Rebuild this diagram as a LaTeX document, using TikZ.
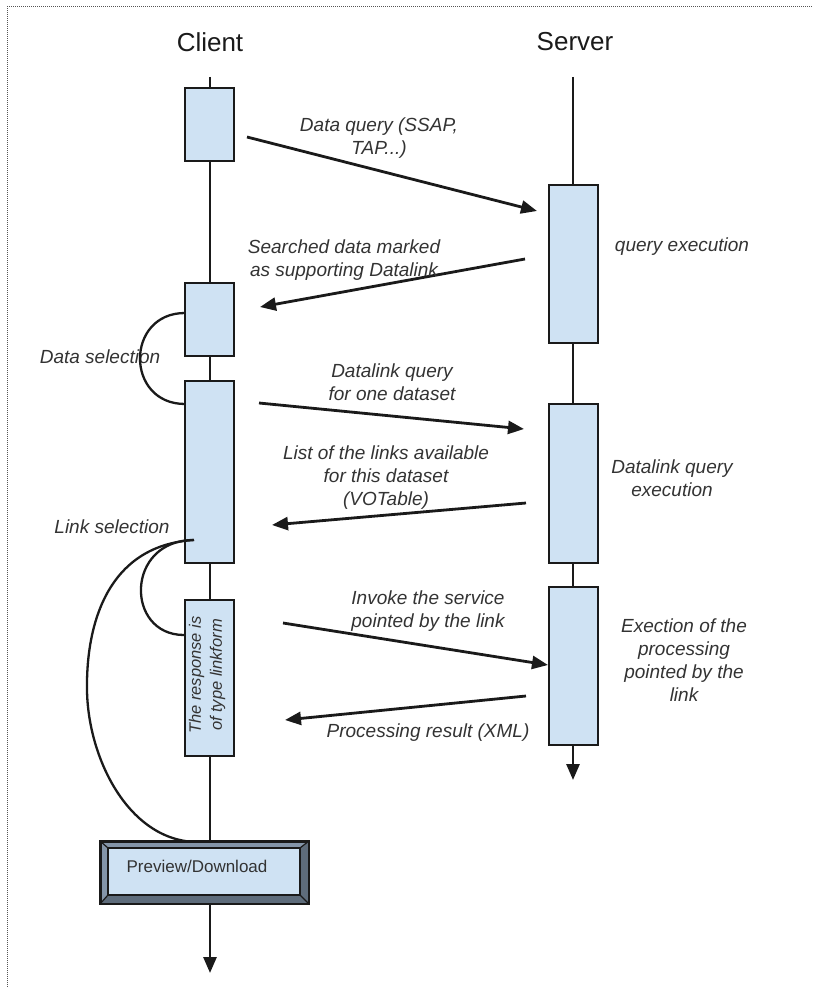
\documentclass[tikz,border=0pt]{standalone}
\usepackage{fontspec}
\setmainfont{Liberation Sans}
\usetikzlibrary{arrows.meta}
\definecolor{boxblue}{HTML}{CFE2F3}
\definecolor{inkc}{HTML}{1A1A1A}
\definecolor{txtc}{HTML}{333333}
\definecolor{bevel}{HTML}{8495A9}
\definecolor{bevdark}{HTML}{5E6C7B}
\definecolor{framec}{HTML}{555555}
\begin{document}
\begin{tikzpicture}[x=1pt,y=-1pt,
  lifeline/.style={draw=inkc,line width=2.8pt},
  tipa/.style={-{Triangle[length=16pt,width=13pt]}},
  actbox/.style={draw=inkc,line width=2.8pt,fill=boxblue,rectangle,minimum width=49pt,inner sep=0pt,anchor=center},
  msg/.style={draw=inkc,line width=2.8pt,tipa},
  lab/.style={text=txtc,font=\fontsize{19}{23}\selectfont\itshape,align=center,inner sep=0pt},
  ttl/.style={text=inkc,font=\fontsize{26}{30}\selectfont,inner sep=0pt},
  selarc/.style={draw=inkc,line width=2.3pt}]
\useasboundingbox (0,0) rectangle (812,987);
% frame
\coordinate (fa) at (7,987);
\coordinate (fb) at (7,7);
\coordinate (fc) at (812,7);
\draw[framec,line width=1pt,dash pattern=on 1pt off 1pt] (fa) -- (fb) -- (fc);
% titles
\node[ttl] (tclient) at (210,42) {Client};
\node[ttl] (tserver) at (575,42) {Server};
% lifelines
\coordinate (ctop) at (210,77);
\coordinate (cend) at (210,973);
\coordinate (stop) at (573,77);
\coordinate (send) at (573,780);
\draw[lifeline,tipa] (ctop) -- (cend);
\draw[lifeline,tipa] (stop) -- (send);
% client boxes
\node[actbox,minimum height=73pt] (c1) at (209.5,124.5) {};
\node[actbox,minimum height=73pt] (c2) at (209.5,319.5) {};
\node[actbox,minimum height=182pt] (c3) at (209.5,472) {};
\node[actbox,minimum height=156pt] (c4) at (209.5,678) {};
% server boxes
\node[actbox,minimum height=158pt] (s1) at (573.5,264) {};
\node[actbox,minimum height=159pt] (s2) at (573.5,483.5) {};
\node[actbox,minimum height=158pt] (s3) at (573.5,666) {};
% messages
\coordinate (m1a) at (247,137);  \coordinate (m1b) at (537,211);
\coordinate (m2a) at (525,259);  \coordinate (m2b) at (260,307);
\coordinate (m3a) at (259,403);  \coordinate (m3b) at (524,429);
\coordinate (m4a) at (526,503);  \coordinate (m4b) at (272,525);
\coordinate (m5a) at (283,623);  \coordinate (m5b) at (548,665);
\coordinate (m6a) at (526,696);  \coordinate (m6b) at (285,720);
\draw[msg] (m1a) -- (m1b);
\draw[msg] (m2a) -- (m2b);
\draw[msg] (m3a) -- (m3b);
\draw[msg] (m4a) -- (m4b);
\draw[msg] (m5a) -- (m5b);
\draw[msg] (m6a) -- (m6b);
% labels
\node[lab] (l1) at (379,138) {Data query (SSAP,\\TAP...)};
\node[lab] (l2) at (344,260) {Searched data marked\\as supporting Datalink};
\node[lab] (l3) at (682,247) {query execution};
\node[lab] (l4) at (100,357) {Data selection};
\node[lab] (l5) at (392,382) {Datalink query\\for one dataset};
\node[lab] (l6) at (386,478) {List of the links available\\for this dataset\\(VOTable)};
\node[lab] (l7) at (672,478) {Datalink query\\execution};
\node[lab] (l8) at (112,527) {Link selection};
\node[lab] (l9) at (428,611) {Invoke the service\\pointed by the link};
\node[lab] (l10) at (684,660) {Exection of the\\processing\\pointed by the\\link};
\node[lab] (l11) at (428,733) {Processing result (XML)};
\node[lab,rotate=90,font=\fontsize{16.5}{21}\selectfont\itshape] (l12) at (207,675) {The response is\\of type linkform};
% selection arcs
\coordinate (d1) at (185,313); \coordinate (d2) at (185,404);
\draw[selarc] (d1) .. controls (125,313) and (125,404) .. (d2);
\coordinate (k0) at (194,540); \coordinate (k1) at (184,635);
\coordinate (k2) at (87,690); \coordinate (k3) at (198,842);
\draw[selarc] (k0) .. controls (125,540) and (125,635) .. (k1);
\draw[selarc] (k0) .. controls (110,545) and (86,620) .. (k2) .. controls (88,760) and (130,842) .. (k3);
% preview / download button
\node[draw=inkc,line width=2pt,fill=bevel,minimum width=207pt,minimum height=61pt,inner sep=0pt] (pv) at (204.5,872.5) {};
\node[minimum width=192pt,minimum height=47pt,inner sep=0pt] (pvin) at (204,871.5) {};
\fill[bevdark] (pv.south west) -- (pv.south east) -- (pv.north east) -- (pvin.north east) -- (pvin.south east) -- (pvin.south west) -- cycle;
\draw[inkc,line width=2.4pt] (pv.south west) rectangle (pv.north east);
\draw[inkc,line width=1.8pt,fill=boxblue] (pvin.south west) rectangle (pvin.north east);
\draw[inkc,line width=1.2pt] (pv.north west) -- (pvin.north west);
\draw[inkc,line width=1.2pt] (pv.north east) -- (pvin.north east);
\draw[inkc,line width=1.2pt] (pv.south west) -- (pvin.south west);
\draw[inkc,line width=1.2pt] (pv.south east) -- (pvin.south east);
\node[text=txtc,font=\fontsize{17}{20}\selectfont,inner sep=0pt] (pvt) at (197,866) {Preview/Download};
\end{tikzpicture}
\end{document}
